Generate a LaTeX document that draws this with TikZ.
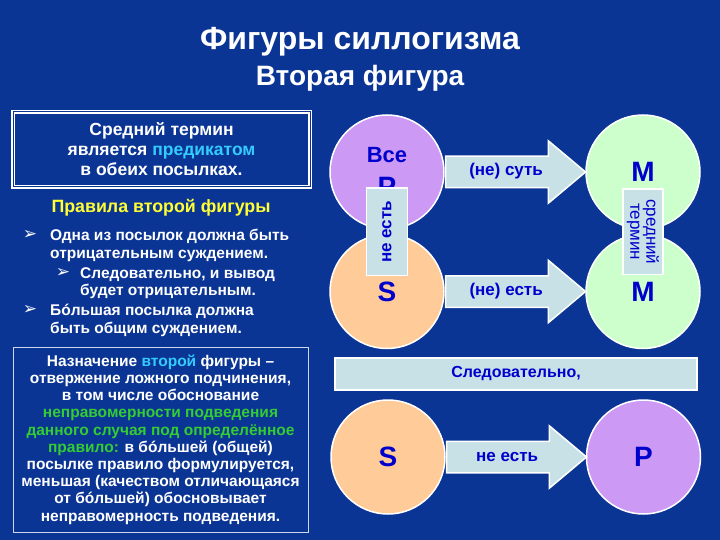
\documentclass[tikz,border=0pt]{standalone}
\usepackage{fontspec}
\setmainfont{Liberation Sans}
\newfontfamily\symfont{DejaVu Sans}
\usepackage{xcolor}
\usepackage{tikz}
\usetikzlibrary{positioning, calc, shapes.arrows}
\definecolor{figcolor0}{HTML}{0B3594}
\definecolor{figcolor1}{HTML}{CC99F5}
\definecolor{figcolor2}{HTML}{FFCC99}
\definecolor{figcolor3}{HTML}{CCFFCC}
\definecolor{figcolor4}{HTML}{C8E1E6}
\definecolor{figcolor5}{HTML}{0000CC}
\definecolor{figcolor6}{HTML}{33CCFF}
\definecolor{figcolor7}{HTML}{33CC33}
\definecolor{figcolor8}{HTML}{FFFF33}
\tikzset{
  title_line/.style={text=white, font=\fontsize{32}{36}\selectfont\bfseries},
  panel_text/.style={text=white, align=center, font=\fontsize{17.5}{20}\selectfont\bfseries, inner sep=0pt},
  rule_title/.style={text=figcolor8, font=\fontsize{17.8}{20}\selectfont\bfseries, inner sep=0pt},
  rule_line/.style={text=white, align=left, anchor=north west, font=\fontsize{15.5}{17.5}\selectfont\bfseries, inner sep=0pt},
  rule_bullet/.style={text=white, font=\fontsize{17}{17}\symfont, inner sep=0pt},
  box_double/.style={draw=white, line width=1.2pt, double=figcolor0, double distance=1pt},
  box_single/.style={draw=white!80!figcolor0, line width=0.8pt},
  term_idle/.style={circle, draw=white, line width=1.5pt, minimum size=114pt, inner sep=0pt, text=figcolor5, font=\fontsize{28}{30}\selectfont\bfseries, align=center},
  term_major/.style={term_idle, fill=figcolor1},
  term_minor/.style={term_idle, fill=figcolor2},
  term_middle/.style={term_idle, fill=figcolor3},
  copula_arrow/.style={single arrow, draw=white, line width=1.5pt, fill=figcolor4, text=figcolor5, font=\fontsize{17}{19}\selectfont\bfseries, single arrow head extend=15.5pt, single arrow tip angle=80, minimum height=140pt, text height=11pt, text depth=3pt, inner ysep=8pt, anchor=tail},
  label_box/.style={draw=white, line width=1.5pt, fill=figcolor4, text=figcolor5, align=center, inner sep=0pt}
}
\begin{document}
\begin{tikzpicture}[x=1pt, y=-1pt]
\useasboundingbox[fill=figcolor0] (0,0) rectangle (720,540);
\node[title_line] (title_node) at (360,42) {Фигуры силлогизма};
\node[title_line, font=\fontsize{28}{32}\selectfont\bfseries] (subtitle_node) at (360,78) {Вторая фигура};
% left column
\node[box_double, panel_text, minimum width=297pt, minimum height=75pt] (intro_box) at (161.5,149.5) {Средний термин\\является \textcolor{figcolor6}{предикатом}\\в обеих посылках.};
\node[rule_title] (rules_title) at (161,208) {Правила второй фигуры};
\node[rule_line] (rule_0) at (50,229) {Одна из посылок должна быть\\отрицательным суждением.};
\node[rule_line] (rule_1) at (80,267) {Следовательно, и вывод\\будет отрицательным.};
\node[rule_line] (rule_2) at (50,304) {Бóльшая посылка должна\\быть общим суждением.};
\node[rule_bullet] (bullet_0) at (30,235) {➢};
\node[rule_bullet] (bullet_1) at (63,273) {➢};
\node[rule_bullet] (bullet_2) at (30,310) {➢};
\node[box_single, panel_text, font=\fontsize{15.5}{17.2}\selectfont\bfseries, minimum width=295pt, minimum height=185pt] (purpose_box) at (160.5,439.5) {Назначение \textcolor{figcolor6}{второй} фигуры –\\
отвержение ложного подчинения,\\
в том числе обоснование\\
\textcolor{figcolor7}{неправомерности подведения}\\
\textcolor{figcolor7}{данного случая под определённое}\\
\textcolor{figcolor7}{правило:} в бóльшей (общей)\\
посылке правило формулируется,\\
меньшая (качеством отличающаяся\\
от бóльшей) обосновывает\\
неправомерность подведения.};
% premises
\node[term_major] (circle_p) at (387,172) {{\fontsize{22}{24}\selectfont Все}\\[4pt]P};
\node[term_minor, below=4pt of circle_p] (circle_s) {S};
\node[label_box, rotate=90, minimum width=87pt, minimum height=41pt, font=\fontsize{17}{17}\selectfont\bfseries] (minor_link) at ($(circle_p)!0.5!(circle_s)$) {не есть};
\node[term_middle] (circle_m1) at (643,172) {M};
\node[term_middle, below=4pt of circle_m1] (circle_m2) {M};
\node[label_box, rotate=-90, minimum width=85pt, minimum height=40pt, font=\fontsize{17}{16}\selectfont] (middle_link) at ($(circle_m1)!0.5!(circle_m2)$) {средний\\термин};
\node[copula_arrow] (arrow_major) at (circle_p.east) {(не) суть};
\node[copula_arrow] (arrow_minor) at (circle_s.east) {(не) есть};
% conclusion
\node[label_box, line width=2.5pt, minimum width=362pt, minimum height=32pt, font=\fontsize{16}{18}\selectfont\bfseries] (therefore_box) at (516,374) {Следовательно,};
\node[term_minor] (circle_s2) at (388,457) {S};
\node[term_major, right=140pt of circle_s2] (circle_p2) {P};
\node[copula_arrow] (arrow_concl) at (circle_s2.east) {не есть};
\end{tikzpicture}
\end{document}
